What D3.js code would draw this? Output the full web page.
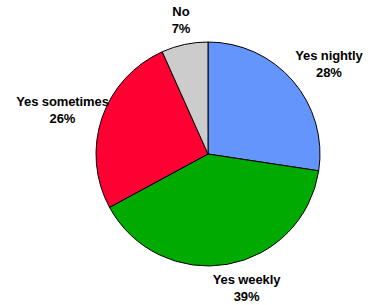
<!DOCTYPE html>
<html>
<head>
<meta charset="utf-8">
<script src="https://cdn.jsdelivr.net/npm/d3@7"></script>
<style>
  body { margin: 0; background: #fff; }
  text { font-family: "Liberation Sans", Arial, sans-serif; font-weight: bold; font-size: 13px; letter-spacing: -0.1px; }
</style>
</head>
<body>
<script>
// answers, clockwise from 12 o'clock
var categories = ["Yes nightly", "Yes weekly", "Yes sometimes", "No"];
var shares = [27.4, 39.7, 26.2, 6.7];
var labels = ["28%", "39%", "26%", "7%"];
var colours = ["#6495fd", "#00aa00", "#ff0033", "#cccccc"];

var width = 368, height = 305;
var cx = 208, cy = 154, r = 112;

// small nudges so labels sit where the original put them
var nudge = { "Yes nightly": [4, 0], "Yes weekly": [12, 0], "Yes sometimes": [12, 0] };

var svg = d3.select("body").append("svg")
    .attr("width", width)
    .attr("height", height);

var pie = d3.pie().sort(null).value(function(d) { return d.v; });
var arcs = pie(categories.map(function(c, i) { return { name: c, v: shares[i], lab: labels[i], col: colours[i] }; }));

var arc = d3.arc().innerRadius(0).outerRadius(r);

var g = svg.append("g").attr("transform", "translate(" + cx + "," + cy + ")");

g.selectAll("path")
  .data(arcs)
  .enter()
  .append("path")
  .attr("d", arc)
  .attr("fill", function(d) { return d.data.col; })
  .attr("stroke", "#000")
  .attr("stroke-width", 1);

var lineH = 17;
var lab = g.selectAll("text.lab")
  .data(arcs)
  .enter()
  .append("text")
  .attr("class", "lab")
  .attr("text-anchor", "middle");

lab.append("tspan").attr("x", 0).attr("dy", 0).text(function(d) { return d.data.name; });
lab.append("tspan").attr("x", 0).attr("dy", lineH).text(function(d) { return d.data.lab; });

lab.attr("transform", function(d) {
  var a = (d.startAngle + d.endAngle) / 2;
  var w = this.getBBox().width;
  var px = Math.sin(a) * (r + 8), py = -Math.cos(a) * (r + 8);
  var bx = px + Math.sin(a) * w / 2;
  var by = py - Math.cos(a) * lineH;
  var n = nudge[d.data.name] || [0, 0];
  // by is the block centre; first baseline sits ~4px below top line centre
  return "translate(" + (bx + n[0]) + "," + (by - lineH / 2 + 4 + n[1]) + ")";
});
</script>
</body>
</html>
